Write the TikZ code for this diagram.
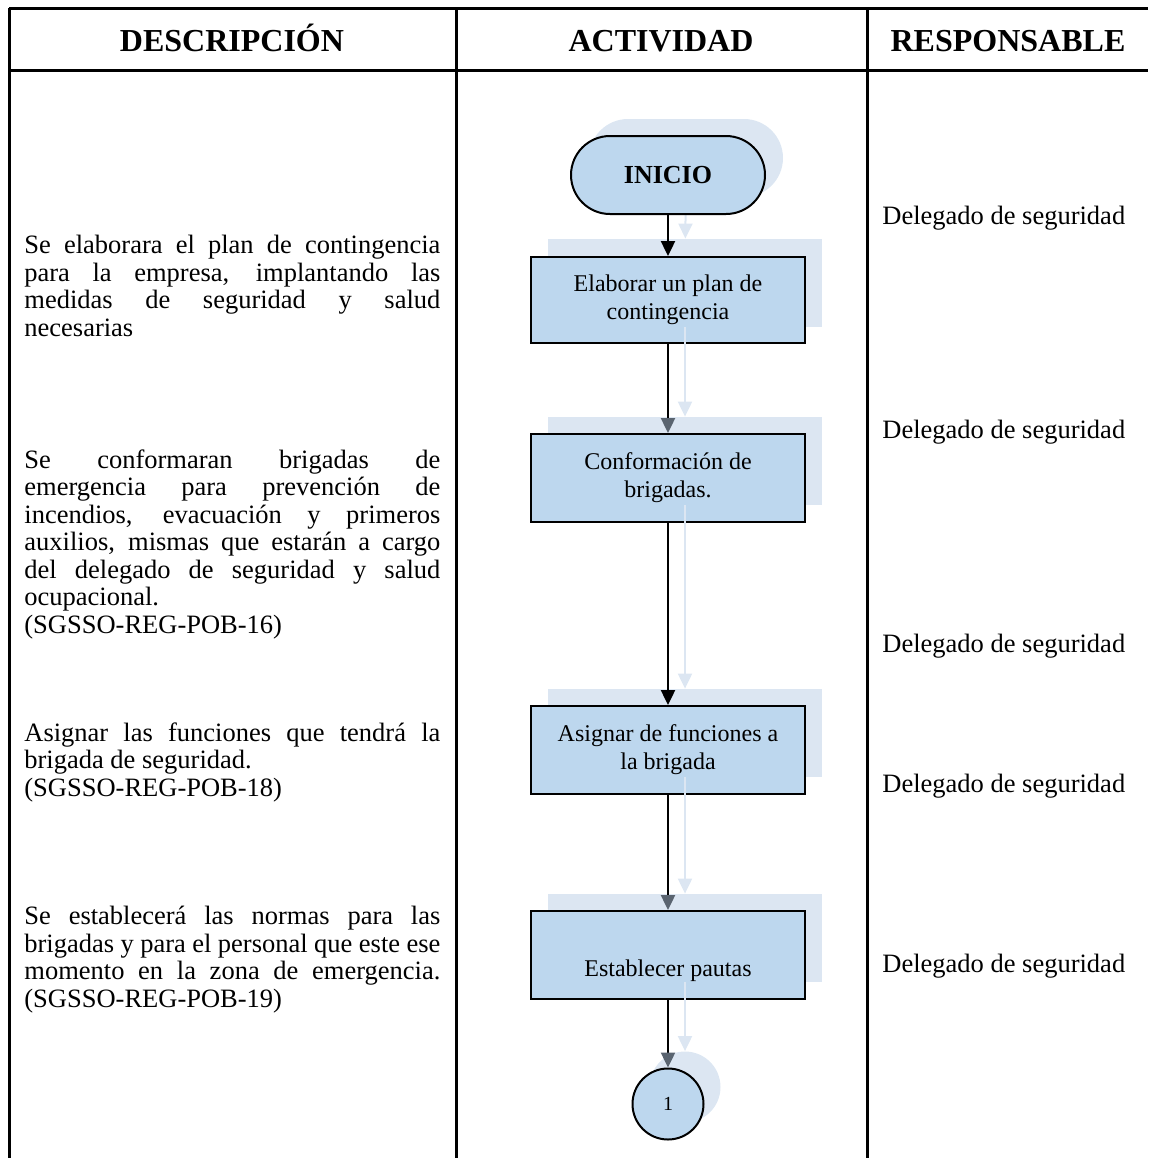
\documentclass[tikz,border=0pt]{standalone}
\usepackage{fontspec}
\setmainfont{Liberation Serif}
\usetikzlibrary{arrows.meta}
\definecolor{cajaazul}{RGB}{189,215,238}
\definecolor{sombra}{RGB}{220,230,242}
\definecolor{puntagris}{RGB}{90,100,112}
\hyphenpenalty=10000

\begin{document}
\begin{tikzpicture}[x=0.5pt, y=-0.5pt,
		>={Triangle[length=7.5pt,width=7pt]},   %Pfeilspitzen
		linea/.style={line width=1.5pt},
		caja/.style={draw, line width=1pt, fill=cajaazul, minimum width=137pt, minimum height=44pt, inner sep=0pt, align=center, font=\fontsize{12}{14}\selectfont},
		sombracaja/.style={fill=sombra, minimum width=137pt, minimum height=44pt, inner sep=0pt},
		terminal/.style={draw, line width=1pt, fill=cajaazul, rounded corners=19.5pt, minimum width=97pt, minimum height=39pt, font=\fontsize{13}{15}\selectfont\bfseries},
		sombraterminal/.style={fill=sombra, rounded corners=19.5pt, minimum width=97pt, minimum height=39pt},
		flecha/.style={->, line width=1.2pt},
		flechagris/.style={-{Triangle[length=7.5pt,width=7pt,color=puntagris]}, line width=1.2pt},
		sombraflecha/.style={->, line width=1pt, sombra},
		encabezado/.style={anchor=base, font=\fontsize{16}{18}\selectfont\bfseries, inner sep=0pt},
		parrafo/.style={anchor=north west, text width=208pt, align=justify, inner sep=0pt, font=\fontsize{13.25}{13.75}\selectfont},
		responsable/.style={anchor=west, inner sep=0pt, font=\fontsize{13.25}{13.75}\selectfont}]
		\useasboundingbox (0,0) rectangle (1148,1158);
		% Tabla
		\draw[linea] (9,8) -- (1148,8);
		\draw[linea] (9,70) -- (1148,70);
		\foreach \x in {9,456,867} \draw[linea] (\x,8) -- (\x,1158);
		% Encabezados
		\node[encabezado] (h-desc) at (232,51) {DESCRIPCIÓN};
		\node[encabezado] (h-act) at (661,51) {ACTIVIDAD};
		\node[encabezado] (h-resp) at (1008,51) {RESPONSABLE};
		% Descripciones
		\node[parrafo] (d-plan) at (24,235) {Se elaborara el plan de contingencia\linebreak para la empresa, implantando las\linebreak medidas de seguridad y salud\linebreak necesarias};
		\node[parrafo] (d-brigadas) at (24,449) {Se conformaran brigadas de\linebreak emergencia para prevención de\linebreak incendios, evacuación y primeros\linebreak auxilios, mismas que estarán a cargo\linebreak del delegado de seguridad y salud\linebreak ocupacional.\newline (SGSSO-REG-POB-16)};
		\node[parrafo] (d-funciones) at (24,722) {Asignar las funciones que tendrá la\linebreak brigada de seguridad.\newline (SGSSO-REG-POB-18)};
		\node[parrafo] (d-normas) at (24,906) {Se establecerá las normas para las\linebreak brigadas y para el personal que este ese\linebreak momento en la zona de emergencia.\linebreak (SGSSO-REG-POB-19)};
		% Responsables
		\foreach \y [count=\i] in {218,432,646,786,966}
			\node[responsable] (r\i) at (882,\y) {Delegado de seguridad};
		% Sombras
		\node[sombraterminal] (s-inicio) at (686,158) {};
		\node[sombracaja] (s-elaborar) at (685,283) {};
		\node[sombracaja] (s-conformar) at (685,461) {};
		\node[sombracaja] (s-asignar) at (685,733) {};
		\node[sombracaja] (s-pautas) at (685,938) {};
		\node[circle, fill=sombra, minimum size=35.5pt] (s-conector) at (685,1087) {};
		% Actividades
		\node[caja, minimum height=43pt] (elaborar) at (668,300) {Elaborar un plan de\\contingencia};
		\node[caja] (conformar) at (668,478) {Conformación de\\brigadas.};
		\node[caja] (asignar) at (668,750) {Asignar de funciones a\\la brigada};
		\node[caja] (pautas) at (668,955) {\strut\\Establecer pautas};
		% Flechas de sombra
		\draw[sombraflecha] (s-inicio) -- (s-elaborar);
		\draw[sombraflecha] (s-elaborar) -- (s-conformar);
		\draw[sombraflecha] (s-conformar) -- (s-asignar);
		\draw[sombraflecha] (s-asignar) -- (s-pautas);
		\draw[sombraflecha] (s-pautas) -- (s-conector);
		% Inicio y conector
		\node[terminal] (inicio) at (668,175) {INICIO};
		\node[circle, draw, line width=1pt, fill=cajaazul, minimum size=35.5pt, inner sep=0pt, font=\fontsize{10}{11}\selectfont] (conector) at (668,1104) {1};
		% Flechas
		\draw[flecha] (inicio) -- (elaborar);
		\draw[flechagris] (elaborar) -- (conformar);
		\draw[flecha] (conformar) -- (asignar);
		\draw[flechagris] (asignar) -- (pautas);
		\draw[flechagris] (pautas) -- (conector);
	\end{tikzpicture}
\end{document}
